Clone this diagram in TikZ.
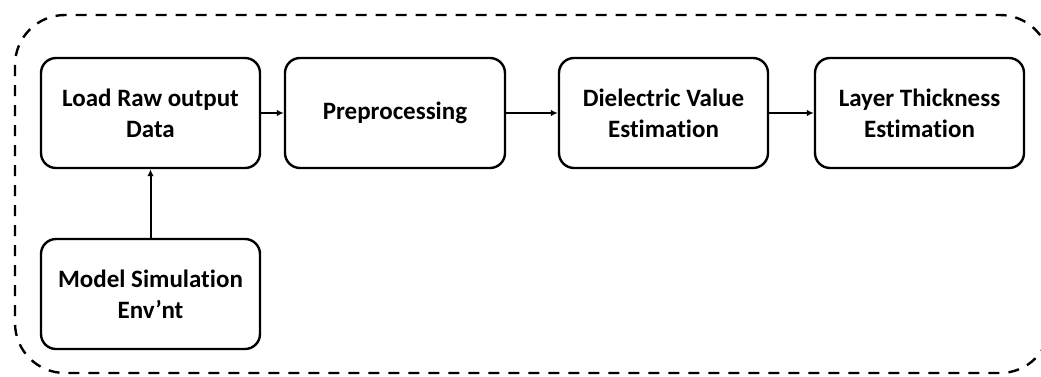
\documentclass[tikz,border=0pt]{standalone}
\usepackage{fontspec}
\setmainfont[Ligatures={NoCommon}]{Carlito}
\usetikzlibrary{arrows.meta}
\begin{document}
\begin{tikzpicture}[x=1pt,y=-1pt,
 box/.style={draw, line width=2.4pt, rounded corners=15pt, minimum width=#1, minimum height=110pt, align=center, font=\fontsize{25}{31}\selectfont\bfseries, inner sep=0pt},
 box/.default=219pt,
 conn/.style={line width=2pt, -{Latex[length=7pt,width=6.5pt]}},
 frame/.style={line width=2.4pt, dash pattern=on 11pt off 9pt, rounded corners=50pt}]
\useasboundingbox (0,0) rectangle (1041,376);
\draw[frame] (15,15) rectangle (1050,373);
\node[box] (load) at (150.5,113) {Load Raw output\\Data};
\node[box=220pt] (pre) at (395,113) {Preprocessing};
\node[box=209pt] (die) at (663.5,113) {Dielectric Value\\Estimation};
\node[box=209pt] (lay) at (919.5,113) {Layer Thickness\\Estimation};
\node[box] (mod) at (150.5,294) {Model Simulation\\Env’nt};
\draw[conn] (load) -- (pre);
\draw[conn] (pre) -- (die);
\draw[conn] (die) -- (lay);
\draw[conn] (mod) -- (load);
\end{tikzpicture}
\end{document}
